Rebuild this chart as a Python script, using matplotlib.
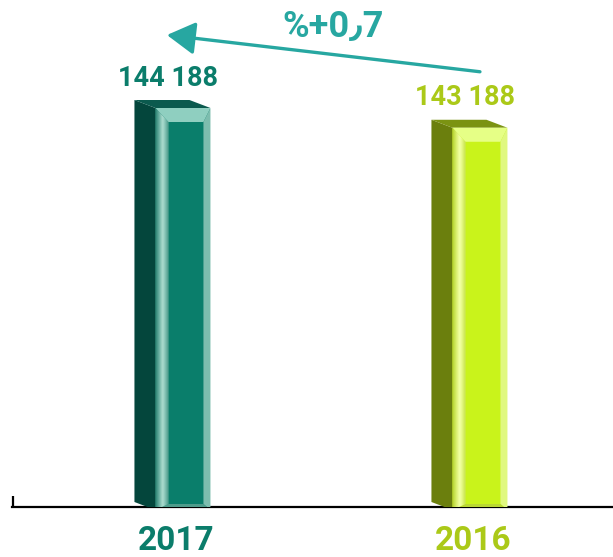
import numpy as np
import matplotlib.pyplot as plt
from matplotlib.patches import Polygon
from matplotlib.colors import to_rgb

# data
years = ['2017', '2016']
values = np.array([144188, 143188])
value_labels = ['144 188', '143 188']

# styles
label_colors = ['#0b7d6b', '#abc918']
inner_colors = ['#0a7e6b', '#c9f31b']
side_colors = ['#04463c', '#6b7f0d']
top_colors = ['#0b5a4e', '#7b9312']
bevel_top = ['#8fcfc0', '#e6ff86']
bevel_right = ['#7dbdae', '#e0f880']
bevel_bottom = ['#4f9c8b', '#b9d733']
bevel_left_grad = [('#2e7d6e', '#a6d8cb'), ('#a9c22a', '#f0ffa0')]
arrow_color = '#27a7a1'
fam = ['Roboto', 'DejaVu Sans']

W, H = 613, 557
fig = plt.figure(figsize=(W / 100, H / 100), dpi=100)
axh = 507
ax = fig.add_axes([0, 50 / H, 1, axh / H])

y0 = 124000
ax.set_ylim(y0, y0 + axh / 399 * (values[0] - y0))
ax.set_xlim(-0.616, 1.448)
x = np.arange(len(years))
bw = 55 / 297

xl, xr = ax.get_xlim()
yb, yt = ax.get_ylim()
sx = (xr - xl) / W
sy = (yt - yb) / axh

base = y0 - 3 * sy
ax.bar(x, values - base, bottom=base, width=bw, color=inner_colors, zorder=3)

depth_x, depth_y = 21, 8
for i, (cx, v) in enumerate(zip(x, values)):
    L, R, T, B = cx - bw / 2, cx + bw / 2, v, base
    Li, Ri, Ti, Bi = L + 13 * sx, R - 7 * sx, T - 14 * sy, B + 6 * sy
    # side face
    ax.add_patch(Polygon([(L, T), (L - depth_x * sx, T + depth_y * sy),
                          (L - depth_x * sx, B + depth_y * sy), (L, B)],
                         color=side_colors[i], zorder=3, lw=0))
    # top face
    ax.add_patch(Polygon([(L, T), (L - depth_x * sx, T + depth_y * sy),
                          (R - depth_x * sx, T + depth_y * sy), (R, T)],
                         color=top_colors[i], zorder=3, lw=0))
    # bevels
    ax.add_patch(Polygon([(L, T), (R, T), (Ri, Ti), (Li, Ti)],
                         color=bevel_top[i], zorder=4, lw=0))
    ax.add_patch(Polygon([(R, T), (R, B), (Ri, Bi), (Ri, Ti)],
                         color=bevel_right[i], zorder=4, lw=0))
    ax.add_patch(Polygon([(L, B), (R, B), (Ri, Bi), (Li, Bi)],
                         color=bevel_bottom[i], zorder=4, lw=0))
    c0, c1 = np.array(to_rgb(bevel_left_grad[i][0])), np.array(to_rgb(bevel_left_grad[i][1]))
    n = 12
    for k in range(n):
        f0, f1 = k / n, (k + 1) / n
        c = c0 + (c1 - c0) * np.sin(np.pi * (f0 + f1) / 2 * 0.85)
        ax.add_patch(Polygon([(L + f0 * (Li - L), T + f0 * (Ti - T)),
                              (L + f1 * (Li - L), T + f1 * (Ti - T)),
                              (L + f1 * (Li - L), B + f1 * (Bi - B)),
                              (L + f0 * (Li - L), B + f0 * (Bi - B))],
                             color=c, zorder=4, lw=0))
    ax.text(cx - 15 * sx, v + 30 * sy, value_labels[i], ha='center', va='center',
            fontsize=19.5, fontweight='bold', family=fam,
            color=label_colors[i], zorder=5)
    ax.text(cx - 7 * sx, y0 - 34 * sy, years[i], ha='center', va='center',
            fontsize=24, fontweight='bold', family=fam,
            color=label_colors[i], clip_on=False)

# change arrow
ax.annotate('', xy=(x[0] - 16 * sx, values[0] + 73 * sy),
            xytext=(x[1], values[1] + 56 * sy),
            arrowprops=dict(arrowstyle='-|>,head_length=0.86,head_width=0.5',
                            mutation_scale=20, lw=2.4, color=arrow_color,
                            shrinkA=0, shrinkB=0))
pct = (values[0] - values[1]) / values[1] * 100
ax.text(333 / W, (axh - 27) / axh, f'%+{pct:.1f}'.replace('.', '٫'),
        transform=ax.transAxes, ha='center', va='center', fontsize=26,
        fontweight='bold', family=fam, color=arrow_color, clip_on=False)

# axis
for s in ['top', 'right', 'left']:
    ax.spines[s].set_visible(False)
ax.spines['bottom'].set_linewidth(1.6)
ax.spines['bottom'].set_bounds(xl + 12 * sx, xr)
ax.yaxis.set_visible(False)
ax.set_xticks([])
ax.set_xticks([xl + 13 * sx], minor=True)
ax.tick_params(axis='x', which='minor', direction='in', length=8, width=1.6)
ax.patch.set_alpha(0)

fig.savefig('out.png', dpi=100)
